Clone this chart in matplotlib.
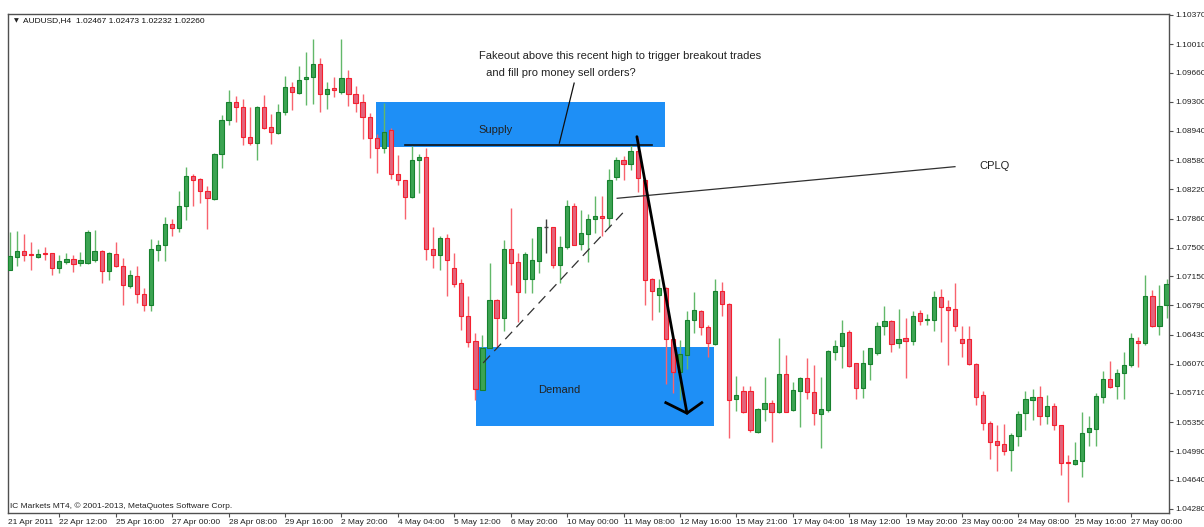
# AUDUSD H4 chart with supply / demand zones, MT4 style

import matplotlib.pyplot as plt
import numpy as np

# OHLC of the 165 visible H4 bars
opens = [1.0723, 1.0738, 1.0746, 1.0742, 1.0739, 1.0744, 1.0743, 1.0725, 1.0732, 1.0736,
         1.0731, 1.0731, 1.0735, 1.0746, 1.0721, 1.0742, 1.0728, 1.0703, 1.0715, 1.0693,
         1.0679, 1.0747, 1.0753, 1.0779, 1.0774, 1.0802, 1.0839, 1.0835, 1.0820, 1.0810,
         1.0866, 1.0908, 1.0930, 1.0924, 1.0887, 1.0879, 1.0924, 1.0899, 1.0892, 1.0917,
         1.0948, 1.0941, 1.0958, 1.0960, 1.0977, 1.0939, 1.0947, 1.0942, 1.0959, 1.0940,
         1.0930, 1.0911, 1.0885, 1.0873, 1.0895, 1.0841, 1.0833, 1.0812, 1.0858, 1.0862,
         1.0749, 1.0741, 1.0762, 1.0725, 1.0706, 1.0666, 1.0635, 1.0575, 1.0626, 1.0686,
         1.0664, 1.0749, 1.0732, 1.0711, 1.0712, 1.0734, 1.0775, 1.0775, 1.0729, 1.0751,
         1.0802, 1.0755, 1.0767, 1.0785, 1.0789, 1.0787, 1.0837, 1.0858, 1.0853, 1.0869,
         1.0834, 1.0711, 1.0692, 1.0700, 1.0638, 1.0597, 1.0618, 1.0661, 1.0672, 1.0652,
         1.0631, 1.0697, 1.0681, 1.0563, 1.0573, 1.0573, 1.0523, 1.0551, 1.0559, 1.0547,
         1.0594, 1.0550, 1.0573, 1.0589, 1.0572, 1.0545, 1.0550, 1.0622, 1.0629, 1.0646,
         1.0608, 1.0577, 1.0607, 1.0620, 1.0653, 1.0660, 1.0632, 1.0639, 1.0635, 1.0669,
         1.0661, 1.0661, 1.0689, 1.0677, 1.0674, 1.0638, 1.0637, 1.0607, 1.0568, 1.0534,
         1.0512, 1.0508, 1.0501, 1.0518, 1.0546, 1.0562, 1.0566, 1.0542, 1.0555, 1.0531,
         1.0486, 1.0483, 1.0487, 1.0523, 1.0526, 1.0566, 1.0588, 1.0579, 1.0595, 1.0605,
         1.0635, 1.0633, 1.0691, 1.0653, 1.0679]
highs = [1.0769, 1.0771, 1.0767, 1.0757, 1.0748, 1.0751, 1.0744, 1.0741, 1.0744, 1.0741,
         1.0745, 1.0772, 1.0772, 1.0747, 1.0745, 1.0757, 1.0737, 1.0723, 1.0727, 1.0700,
         1.0761, 1.0759, 1.0788, 1.0786, 1.0820, 1.0850, 1.0841, 1.0836, 1.0826, 1.0867,
         1.0914, 1.0944, 1.0937, 1.0933, 1.0924, 1.0925, 1.0938, 1.0915, 1.0927, 1.0962,
         1.0955, 1.0974, 1.0991, 1.1007, 1.0984, 1.0954, 1.0961, 1.1008, 1.0969, 1.0950,
         1.0940, 1.0916, 1.0890, 1.0928, 1.0898, 1.0864, 1.0834, 1.0875, 1.0865, 1.0873,
         1.0775, 1.0765, 1.0767, 1.0743, 1.0712, 1.0690, 1.0645, 1.0643, 1.0731, 1.0687,
         1.0760, 1.0799, 1.0743, 1.0745, 1.0762, 1.0776, 1.0785, 1.0776, 1.0764, 1.0809,
         1.0805, 1.0797, 1.0792, 1.0814, 1.0814, 1.0847, 1.0862, 1.0863, 1.0877, 1.0887,
         1.0836, 1.0713, 1.0711, 1.0701, 1.0639, 1.0636, 1.0672, 1.0696, 1.0673, 1.0655,
         1.0712, 1.0708, 1.0682, 1.0592, 1.0579, 1.0579, 1.0552, 1.0591, 1.0562, 1.0639,
         1.0618, 1.0585, 1.0591, 1.0614, 1.0606, 1.0591, 1.0624, 1.0636, 1.0661, 1.0649,
         1.0608, 1.0624, 1.0626, 1.0659, 1.0678, 1.0661, 1.0675, 1.0664, 1.0672, 1.0673,
         1.0668, 1.0697, 1.0699, 1.0686, 1.0707, 1.0653, 1.0653, 1.0608, 1.0573, 1.0536,
         1.0531, 1.0533, 1.0522, 1.0549, 1.0573, 1.0576, 1.0580, 1.0569, 1.0558, 1.0532,
         1.0495, 1.0511, 1.0548, 1.0542, 1.0571, 1.0598, 1.0610, 1.0601, 1.0621, 1.0645,
         1.0640, 1.0716, 1.0698, 1.0704, 1.0712]
lows = [1.0723, 1.0727, 1.0734, 1.0723, 1.0737, 1.0735, 1.0716, 1.0719, 1.0730, 1.0720,
        1.0728, 1.0730, 1.0732, 1.0707, 1.0710, 1.0726, 1.0679, 1.0700, 1.0682, 1.0672,
        1.0672, 1.0734, 1.0734, 1.0764, 1.0770, 1.0784, 1.0802, 1.0805, 1.0773, 1.0809,
        1.0848, 1.0901, 1.0905, 1.0877, 1.0877, 1.0858, 1.0897, 1.0878, 1.0890, 1.0914,
        1.0920, 1.0940, 1.0926, 1.0927, 1.0918, 1.0921, 1.0936, 1.0940, 1.0925, 1.0918,
        1.0884, 1.0861, 1.0842, 1.0867, 1.0835, 1.0827, 1.0786, 1.0811, 1.0818, 1.0735,
        1.0725, 1.0723, 1.0691, 1.0702, 1.0649, 1.0628, 1.0562, 1.0574, 1.0625, 1.0628,
        1.0647, 1.0704, 1.0659, 1.0694, 1.0694, 1.0719, 1.0743, 1.0725, 1.0706, 1.0748,
        1.0753, 1.0747, 1.0732, 1.0768, 1.0765, 1.0775, 1.0834, 1.0834, 1.0846, 1.0819,
        1.0679, 1.0661, 1.0671, 1.0582, 1.0571, 1.0562, 1.0601, 1.0645, 1.0643, 1.0615,
        1.0630, 1.0666, 1.0516, 1.0549, 1.0546, 1.0523, 1.0521, 1.0536, 1.0510, 1.0546,
        1.0547, 1.0549, 1.0529, 1.0564, 1.0532, 1.0503, 1.0548, 1.0611, 1.0602, 1.0603,
        1.0564, 1.0565, 1.0587, 1.0618, 1.0643, 1.0622, 1.0627, 1.0590, 1.0630, 1.0655,
        1.0655, 1.0647, 1.0634, 1.0606, 1.0647, 1.0615, 1.0606, 1.0556, 1.0525, 1.0489,
        1.0475, 1.0494, 1.0475, 1.0505, 1.0525, 1.0538, 1.0532, 1.0533, 1.0525, 1.0470,
        1.0436, 1.0482, 1.0467, 1.0505, 1.0506, 1.0559, 1.0577, 1.0564, 1.0563, 1.0603,
        1.0603, 1.0630, 1.0652, 1.0642, 1.0663]
closes = [1.0740, 1.0746, 1.0741, 1.0741, 1.0742, 1.0742, 1.0725, 1.0734, 1.0736, 1.0730,
          1.0735, 1.0769, 1.0746, 1.0721, 1.0744, 1.0728, 1.0704, 1.0716, 1.0693, 1.0679,
          1.0748, 1.0753, 1.0779, 1.0774, 1.0802, 1.0839, 1.0834, 1.0820, 1.0811, 1.0866,
          1.0908, 1.0930, 1.0924, 1.0887, 1.0879, 1.0924, 1.0898, 1.0893, 1.0917, 1.0948,
          1.0942, 1.0957, 1.0960, 1.0977, 1.0940, 1.0946, 1.0944, 1.0959, 1.0940, 1.0929,
          1.0911, 1.0885, 1.0873, 1.0893, 1.0841, 1.0833, 1.0812, 1.0858, 1.0862, 1.0749,
          1.0741, 1.0762, 1.0735, 1.0705, 1.0666, 1.0634, 1.0576, 1.0627, 1.0686, 1.0663,
          1.0749, 1.0731, 1.0695, 1.0742, 1.0735, 1.0775, 1.0775, 1.0729, 1.0751, 1.0802,
          1.0754, 1.0768, 1.0786, 1.0789, 1.0787, 1.0834, 1.0858, 1.0853, 1.0869, 1.0836,
          1.0710, 1.0697, 1.0700, 1.0638, 1.0597, 1.0619, 1.0661, 1.0673, 1.0652, 1.0632,
          1.0697, 1.0681, 1.0562, 1.0568, 1.0547, 1.0525, 1.0551, 1.0559, 1.0547, 1.0594,
          1.0548, 1.0574, 1.0589, 1.0572, 1.0546, 1.0551, 1.0623, 1.0629, 1.0645, 1.0604,
          1.0577, 1.0608, 1.0626, 1.0654, 1.0660, 1.0631, 1.0638, 1.0635, 1.0666, 1.0660,
          1.0662, 1.0689, 1.0677, 1.0673, 1.0654, 1.0632, 1.0607, 1.0566, 1.0534, 1.0511,
          1.0507, 1.0500, 1.0519, 1.0545, 1.0563, 1.0566, 1.0542, 1.0555, 1.0531, 1.0484,
          1.0484, 1.0488, 1.0522, 1.0528, 1.0567, 1.0588, 1.0578, 1.0595, 1.0606, 1.0639,
          1.0633, 1.0691, 1.0653, 1.0678, 1.0705]

price_ticks = [1.10370, 1.10010, 1.09660, 1.09300, 1.08940, 1.08580, 1.08220, 1.07860, 1.07500,
               1.07150, 1.06790, 1.06430, 1.06070, 1.05710, 1.05350, 1.04990, 1.04640, 1.04280]
time_labels = ["22 Apr 12:00", "25 Apr 16:00", "27 Apr 00:00", "28 Apr 08:00", "29 Apr 16:00",
               "2 May 20:00", "4 May 04:00", "5 May 12:00", "6 May 20:00", "10 May 00:00",
               "11 May 08:00", "12 May 16:00", "15 May 21:00", "17 May 04:00", "18 May 12:00",
               "19 May 20:00", "23 May 00:00", "24 May 08:00", "25 May 16:00", "27 May 00:00"]
first_label = "21 Apr 2011"
time_label_bars = [7 + 8 * k for k in range(len(time_labels))]

# zones (bar index range, price range)
supply_zone = [51.9, 92.9, 1.0874, 1.0930]
demand_zone = [66.1, 99.8, 1.0530, 1.0628]

FONT = "Liberation Sans"
plt.rcParams['font.family'] = [FONT, 'DejaVu Sans']

bull_body, bull_edge, bull_wick = "#3ca452", "#17812e", "#62b86a"
bear_body, bear_edge, bear_wick = "#e2647c", "#f5202f", "#f8636e"
doji_col = "#404040"

o = np.array(opens)
h = np.array(highs)
l = np.array(lows)
c = np.array(closes)
idx = np.arange(len(o))

fig = plt.figure(figsize=(12.04, 5.27), dpi=100)
ax = fig.add_axes([8 / 1204, 14 / 527, 1161 / 1204, 499 / 527])

up = c > o
dn = c < o
eq = c == o

# zones first so candles sit on top
ax.add_patch(plt.Rectangle((supply_zone[0], supply_zone[2]), supply_zone[1] - supply_zone[0],
                           supply_zone[3] - supply_zone[2], color="#1e8ff6", zorder=1, lw=0))
ax.add_patch(plt.Rectangle((demand_zone[0], demand_zone[2]), demand_zone[1] - demand_zone[0],
                           demand_zone[3] - demand_zone[2], color="#1e8ff6", zorder=1, lw=0))

# wicks
ax.vlines(idx[up], l[up], h[up], color=bull_wick, lw=1.0, zorder=2)
ax.vlines(idx[dn], l[dn], h[dn], color=bear_wick, lw=1.0, zorder=2)
ax.vlines(idx[eq], l[eq], h[eq], color=doji_col, lw=1.0, zorder=2)

# bodies
w = 0.6
ax.bar(idx[up], c[up] - o[up], w, bottom=o[up], color=bull_body, edgecolor=bull_edge, lw=0.8, zorder=3)
ax.bar(idx[dn], o[dn] - c[dn], w, bottom=c[dn], color=bear_body, edgecolor=bear_edge, lw=0.8, zorder=3)
ax.hlines(c[eq], idx[eq] - w / 2, idx[eq] + w / 2, color=doji_col, lw=1.0, zorder=3)

# drawn objects
ax.plot([56.0, 91.0], [1.0877, 1.0877], color="#101010", lw=1.2, zorder=4)
ax.plot([80.0, 77.9], [1.0953, 1.0879], color="#101010", lw=0.9, zorder=4)
ax.plot([67.1, 86.9], [1.0608, 1.0793], color="#303030", lw=0.9, ls=(0, (8, 5)), zorder=4)
ax.plot([86.1, 134.0], [1.0811, 1.0850], color="#303030", lw=0.9, zorder=4)
ax.plot([88.9, 96.0], [1.0887, 1.0546], color="black", lw=2.0, zorder=5, solid_capstyle='round')
ax.plot([93.0, 96.0, 98.1], [1.0559, 1.0546, 1.0559], color="black", lw=2.0, zorder=5,
        solid_joinstyle='miter')

txt = dict(fontsize=8, family=FONT, color="#222222", zorder=6)
ax.text(66.5, 1.0986, "Fakeout above this recent high to trigger breakout trades", va="center", **txt)
ax.text(67.1, 1.0965, " and fill pro money sell orders?", va="center", **txt)
ax.text(68.9, 1.0895, "Supply", ha="center", va="center", **txt)
ax.text(77.9, 1.0575, "Demand", ha="center", va="center", **txt)
ax.text(137.5, 1.0851, "CPLQ", va="center", **txt)

ax.set_xlim(-0.28, 164.35)
ax.set_ylim(1.042295, 1.103823)

for s in ax.spines.values():
    s.set_color("#505050")
    s.set_linewidth(1.0)

ax.yaxis.tick_right()
ax.set_yticks(price_ticks)
ax.set_yticklabels(["%.5f" % p for p in price_ticks])
ax.tick_params(axis="y", direction="out", length=3, width=0.8, pad=1.5, labelsize=6,
               colors="#505050", labelcolor="#222222")
ax.set_xticks(time_label_bars)
ax.set_xticklabels(time_labels, ha="left")
ax.tick_params(axis="x", direction="out", length=3, width=0.8, pad=1.5, labelsize=6,
               colors="#505050", labelcolor="#222222")

ax.text(0.0, -0.0115, first_label, transform=ax.transAxes, fontsize=6, family=FONT,
        color="#222222", va="top", ha="left")

fig.text(14 / 1204, 1 - 21 / 527, "\u25bc", fontsize=4.5, family="DejaVu Sans", va="center", color="#222222")
fig.text(23 / 1204, 1 - 21 / 527, "AUDUSD,H4  1.02467 1.02473 1.02232 1.02260", fontsize=6,
         family=FONT, va="center", color="#111111")
ax.text(2 / 1161, 7 / 499, "IC Markets MT4, \u00a9 2001-2013, MetaQuotes Software Corp.",
        transform=ax.transAxes, fontsize=6, family=FONT, va="center", color="#222222")

fig.savefig("out.png", dpi=100)
